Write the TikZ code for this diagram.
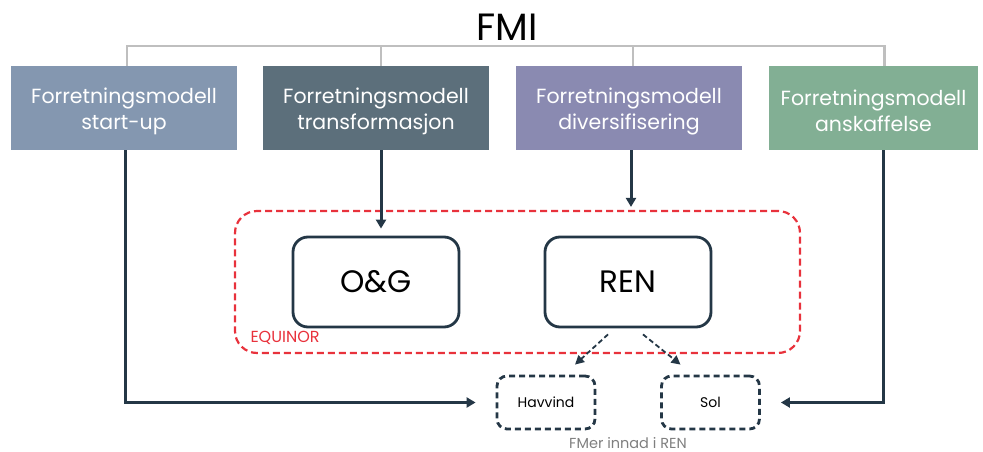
\documentclass[tikz,border=0pt]{standalone}
\usepackage{fontspec}
\setmainfont{Poppins}
\usetikzlibrary{arrows.meta}
\definecolor{fmA}{HTML}{8497B0}
\definecolor{fmB}{HTML}{5C6F7B}
\definecolor{fmC}{HTML}{8A8AB1}
\definecolor{fmD}{HTML}{82AF94}
\definecolor{ink}{HTML}{243746}
\definecolor{bracket}{HTML}{BFBFBF}
\definecolor{eqred}{HTML}{E8323C}
\definecolor{note}{HTML}{7F7F7F}
\tikzset{
  fmbox/.style={minimum width=226pt, minimum height=84pt, inner sep=0pt,
    text=white, align=center, font=\fontsize{20.5}{26}\selectfont},
  unitbox/.style={draw=ink, line width=2.8pt, rounded corners=15pt,
    minimum width=166pt, minimum height=90pt, font=\fontsize{31}{34}\selectfont},
  subbox/.style={draw=ink, line width=2.8pt, dash pattern=on 6pt off 4pt,
    rounded corners=10pt, minimum width=98pt, minimum height=53pt,
    font=\fontsize{14}{16}\selectfont},
  arr/.style={draw=ink, line width=3pt, -{Triangle[length=9pt,width=10pt]}},
  darr/.style={draw=ink, line width=1.8pt, dash pattern=on 5pt off 3pt,
    -{Triangle[length=9pt,width=9pt]}},
  tie/.style={draw=bracket, line width=2.2pt},
}
\begin{document}
\begin{tikzpicture}[x=1pt,y=-1pt]
\useasboundingbox (0,0) rectangle (983,452);

% title and the four business models
\node[font=\fontsize{38}{40}\selectfont] (fmi) at (507,27) {FMI};
\node[fmbox, fill=fmA] (b1) at (124,108) {};
\node[fmbox, fill=fmB] (b2) at (376,108) {};
\node[fmbox, fill=fmC] (b3) at (629,108) {};
\node[fmbox, fill=fmD, minimum width=209pt] (b4) at (873.5,108) {};
\foreach \b/\t in {b1/start-up, b2/transformasjon, b3/diversifisering, b4/anskaffelse}
  \node[fmbox, minimum width=0pt, minimum height=0pt] (\b txt) at ([yshift=-3pt]\b.center) {Forretningsmodell\\\t};

% grey bracket joining the models
\coordinate (brk) at (507,46);
\coordinate (t1) at ([xshift=3pt]b1.north);
\coordinate (t2) at ([xshift=5pt]b2.north);
\coordinate (t3) at ([xshift=4pt]b3.north);
\coordinate (t4) at ([xshift=11pt]b4.north);
\draw[tie] (t1) -- (t1 |- brk) -- (t4 |- brk) -- (t4);
\draw[tie] (t2) -- (t2 |- brk);
\draw[tie] (t3) -- (t3 |- brk);

% Equinor group
\node[draw=eqred, line width=2.2pt, dash pattern=on 7pt off 4pt, rounded corners=22pt,
      minimum width=565pt, minimum height=142pt] (equinor) at (517.5,282) {};
\node[unitbox] (og) at (376,282) {O\&G};
\node[unitbox] (ren) at (628,282) {REN};
\node[anchor=west, text=eqred, font=\fontsize{16}{18}\selectfont] (eqlabel) at (247,338) {EQUINOR};

% units within REN
\node[subbox] (hav) at (546,402.5) {Havvind};
\node[subbox] (sol) at (710.5,402.5) {Sol};
\node[text=note, font=\fontsize{14.5}{16}\selectfont, inner sep=1pt] (renlabel) at (628,443) {FMer innad i REN};

% connectors
\draw[arr, shorten >=20pt] ([xshift=1pt]b1.south) |- (hav.west);
\draw[arr, shorten >=7pt] ([xshift=5pt]b2.south) -- ([xshift=5pt]og.north);
\draw[arr, shorten >=3pt] ([xshift=2pt]b3.south) -- ([xshift=2pt]b3.south |- equinor.north);
\draw[arr, shorten >=20pt] ([xshift=10pt]b4.south) |- (sol.east);
\draw[darr] ([shift={(-20,6)}]ren.south) -- ([shift={(29,-10)}]hav.north);
\draw[darr] ([shift={(15,6)}]ren.south) -- ([shift={(-30,-10)}]sol.north);
\end{tikzpicture}
\end{document}
